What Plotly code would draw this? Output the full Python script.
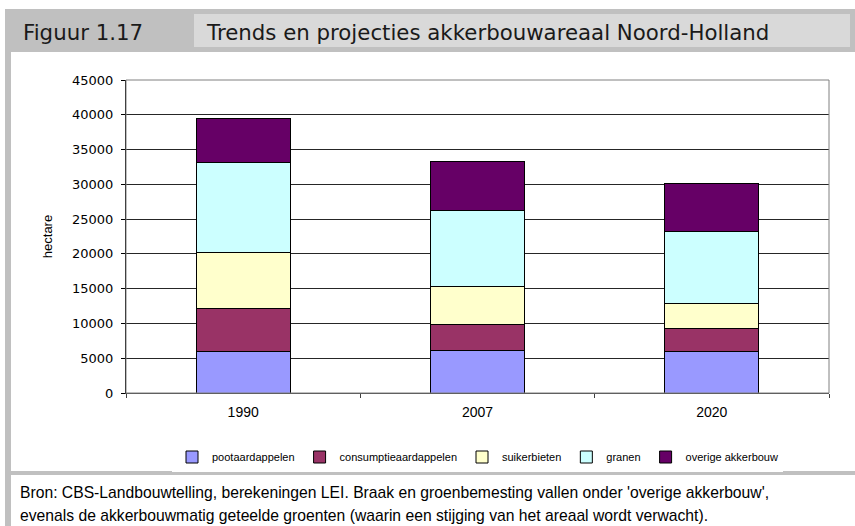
import plotly.graph_objects as go

# data (hectare)
years = ["1990", "2007", "2020"]
pootaardappelen = [6000, 6100, 5900]
consumptieaardappelen = [6100, 3800, 3400]
suikerbieten = [8100, 5400, 3500]
granen = [12900, 11000, 10400]
overige_akkerbouw = [6300, 7000, 6900]

series = [
    ("pootaardappelen", pootaardappelen, "#9999FF"),
    ("consumptieaardappelen", consumptieaardappelen, "#993366"),
    ("suikerbieten", suikerbieten, "#FFFFCC"),
    ("granen", granen, "#CCFFFF"),
    ("overige akkerbouw", overige_akkerbouw, "#660066"),
]

FIG_W, FIG_H = 855, 526
# plot area in pixels
L, T, R, B = 126, 80, 829, 393
W, H = R - L, B - T


def px(x):
    return (x - L) / W


def py(y):
    return 1 - (y - T) / H


def box(x0, y0, x1, y1, color):
    return dict(
        type="rect", xref="paper", yref="paper",
        x0=px(x0), x1=px(x1), y0=py(y1), y1=py(y0),
        fillcolor=color, line={"width": 0}, layer="below",
    )


fig = go.Figure()
for name, vals, color in series:
    fig.add_trace(
        go.Bar(
            x=years,
            y=vals,
            name=name,
            marker={"color": color, "line": {"color": "black", "width": 1}},
        )
    )

TEXT_FONT = "Liberation Sans, Arial, sans-serif"
WIDE_FONT = "DejaVu Sans, Verdana, sans-serif"

fig.update_layout(
    width=FIG_W,
    height=FIG_H,
    margin=dict(l=L, r=FIG_W - R, t=T, b=FIG_H - B, pad=0),
    paper_bgcolor="white",
    plot_bgcolor="white",
    barmode="stack",
    bargap=0.6,
    font={"family": TEXT_FONT, "size": 11, "color": "black"},
    showlegend=True,
    legend={
        "orientation": "h",
        "x": 0.5,
        "xanchor": "center",
        "y": py(457),
        "yanchor": "middle",
        "font": {"size": 11},
        "traceorder": "normal",
        "itemwidth": 30,
    },
    xaxis={
        "type": "category",
        "showgrid": False,
        "showline": True,
        "linecolor": "#404040",
        "ticks": "outside",
        "tickson": "boundaries",
        "ticklen": 4,
        "tickcolor": "#404040",
        "tickfont": {"size": 14},
        "ticklabelstandoff": 6,
    },
    yaxis={
        "range": [0, 45000],
        "dtick": 5000,
        "tickformat": "d",
        "showgrid": True,
        "gridcolor": "#262626",
        "gridwidth": 1,
        "zeroline": False,
        "showline": True,
        "linecolor": "black",
        "ticks": "outside",
        "ticklen": 4,
        "tickcolor": "black",
        "tickfont": {"family": WIDE_FONT, "size": 13},
        "ticklabelstandoff": 5,
        "title": {"text": "hectare", "font": {"size": 13}, "standoff": 16},
    },
    shapes=[
        # header band
        box(5, 9, 855, 52, "#C0C0C0"),
        box(194, 14, 850, 47, "#D9D9D9"),
        # frame bars
        box(5, 52, 11, 526, "#C0C0C0"),
        box(5, 471, 855, 475, "#C0C0C0"),
        # plot area border
        dict(
            type="rect", xref="paper", yref="paper",
            x0=0, x1=1, y0=0, y1=1,
            line={"color": "#808080", "width": 1},
        ),
    ],
)

HEAD_FONT = {"family": WIDE_FONT, "size": 21.3, "color": "#1a1a1a"}
fig.add_annotation(
    text="Figuur 1.17", xref="paper", yref="paper",
    x=px(21), y=py(32), xanchor="left", yanchor="middle",
    showarrow=False, font=HEAD_FONT,
)
fig.add_annotation(
    text="Trends en projecties akkerbouwareaal Noord-Holland",
    xref="paper", yref="paper",
    x=px(204), y=py(32), xanchor="left", yanchor="middle",
    showarrow=False, font=HEAD_FONT,
)

NOTE_FONT = {"family": TEXT_FONT, "size": 15.7, "color": "black"}
notes = [
    "Bron: CBS-Landbouwtelling, berekeningen LEI. Braak en groenbemesting "
    "vallen onder 'overige akkerbouw',",
    "evenals de akkerbouwmatig geteelde groenten (waarin een stijging van "
    "het areaal wordt verwacht).",
]
for i, line in enumerate(notes):
    fig.add_annotation(
        text=line, xref="paper", yref="paper",
        x=px(18), y=py(492 + 23 * i), xanchor="left", yanchor="middle",
        showarrow=False, font=NOTE_FONT,
    )

fig.write_html(
    "out.html",
    config={"displayModeBar": False},
    post_script="document.body.style.margin = '0';",
)
